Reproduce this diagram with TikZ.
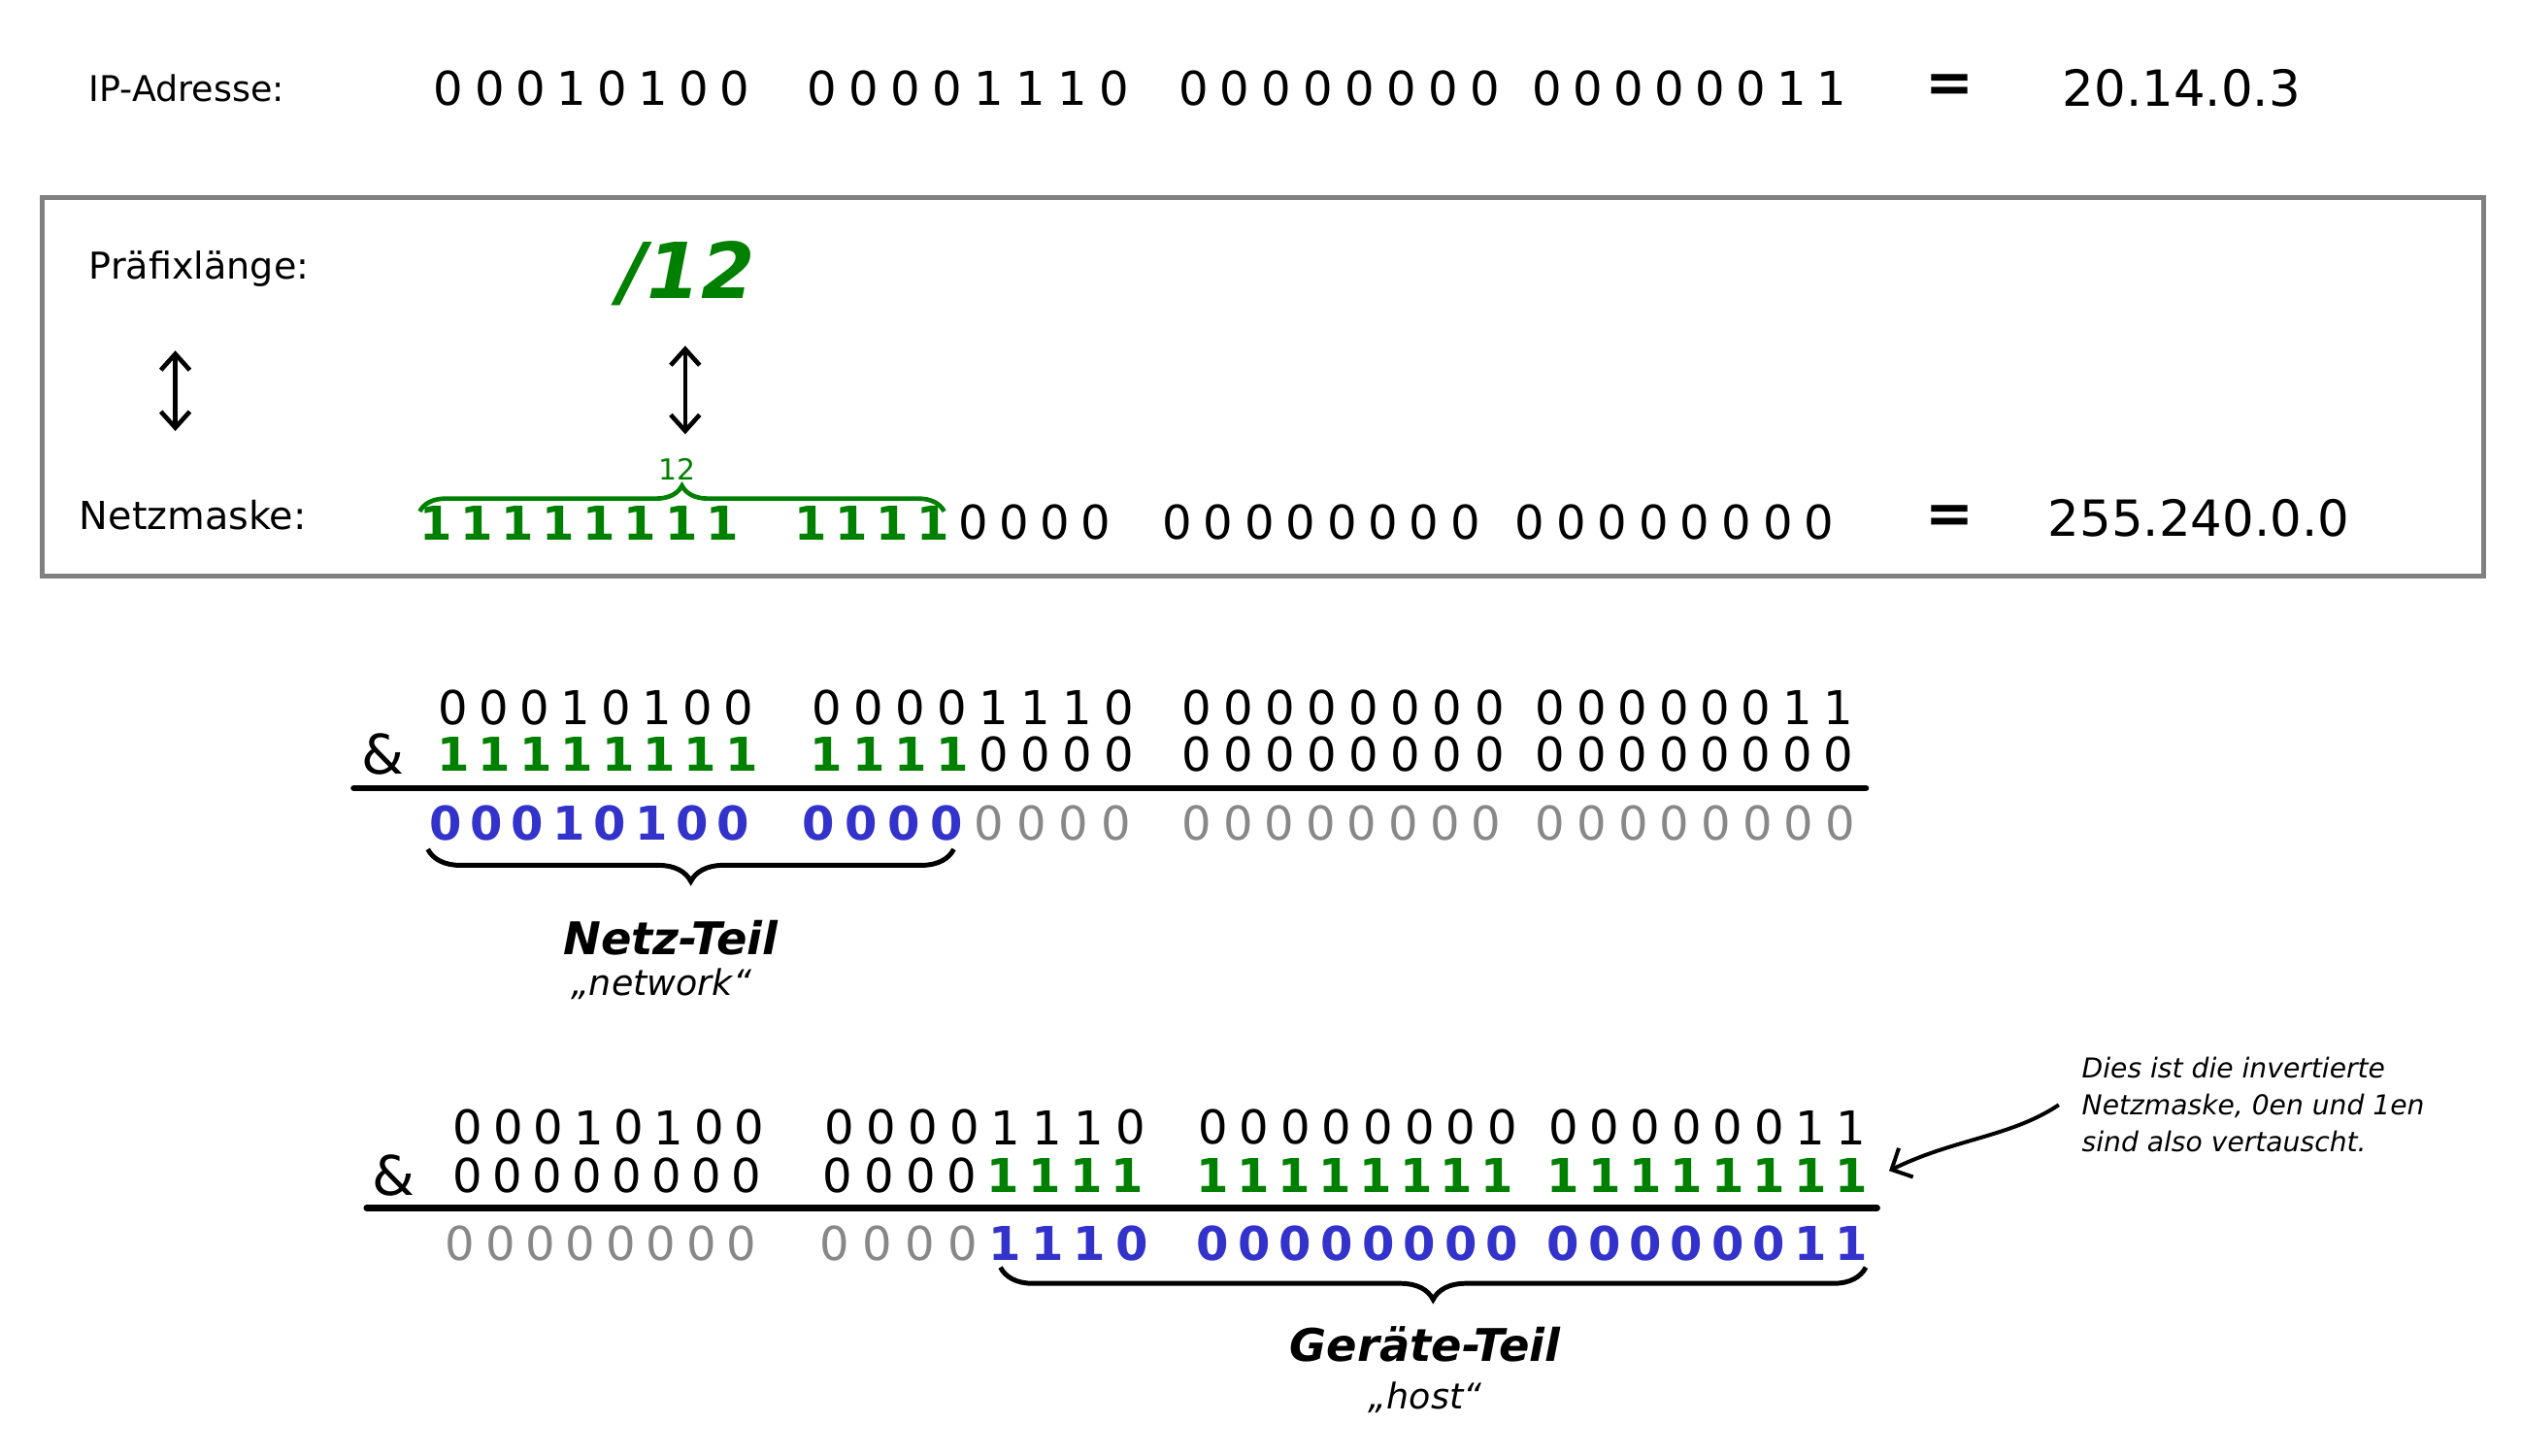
\documentclass[tikz,border=0pt]{standalone}
\usepackage{fontspec}
\setmainfont{DejaVu Sans}[BoldFont={DejaVu Sans Bold},ItalicFont={DejaVu Sans Oblique},BoldItalicFont={DejaVu Sans Bold Oblique}]
\usetikzlibrary{arrows.meta,decorations.pathreplacing}
\definecolor{mgreen}{RGB}{0,128,0}
\definecolor{mblue}{RGB}{51,51,204}
\definecolor{mgray}{RGB}{136,136,136}
\definecolor{boxgray}{RGB}{128,128,128}
\tikzset{
  bit/.style={inner sep=0pt,anchor=center,font=\fontsize{14.5}{14.5}\selectfont},
  k/.style={bit,text=black},
  g/.style={bit,text=mgreen,font=\fontsize{14.5}{14.5}\selectfont\bfseries},
  b/.style={bit,text=mblue,font=\fontsize{14.5}{14.5}\selectfont\bfseries},
  e/.style={bit,text=mgray},
  lab/.style={inner sep=0pt,anchor=west,font=\fontsize{11.5}{13}\selectfont},
  bignum/.style={inner sep=0pt,anchor=west,font=\fontsize{15.5}{17}\selectfont},
  eqsign/.style={inner sep=0pt,font=\fontsize{18}{18}\selectfont\bfseries},
  andsign/.style={inner sep=0pt,font=\fontsize{17}{17}\selectfont},
  dblarrow/.style={{Straight Barb[length=5pt,width=9pt]}-{Straight Barb[length=5pt,width=9pt]},line width=1.4pt},
  rule/.style={line width=2pt,line cap=round},
  bracebelow/.style={decorate,decoration={brace,amplitude=10pt},line width=1.5pt},
  partlabel/.style={inner sep=0pt,font=\fontsize{14}{16}\selectfont\bfseries\itshape},
  partsub/.style={inner sep=0pt,font=\fontsize{11}{13}\selectfont\itshape},
}
\newcommand\bitgroup[5]{%
  \foreach \d/\c [count=\i from 0] in {#5}
    \node[\c] (#1-\i) at ({#2+9+\i*(#3-#2-18)/7},#4) {\d};
}
\begin{document}
\begin{tikzpicture}[x=0.5pt,y=-0.5pt]
\useasboundingbox (0,0) rectangle (1568,905);

% Row: IP address
\node[lab,font=\fontsize{11}{13}\selectfont] (ip) at (55,55) {IP-Adresse:};
\bitgroup{a1}{270}{466}{55}{0/k,0/k,0/k,1/k,0/k,1/k,0/k,0/k}
\bitgroup{a2}{502}{702}{55}{0/k,0/k,0/k,0/k,1/k,1/k,1/k,0/k}
\bitgroup{a3}{733}{932}{55}{0/k,0/k,0/k,0/k,0/k,0/k,0/k,0/k}
\bitgroup{a4}{953}{1148}{55}{0/k,0/k,0/k,0/k,0/k,0/k,1/k,1/k}
\node[eqsign] (eq1) at (1212,55) {=};
\node[bignum] (ipdec) at (1282,55) {20.14.0.3};

% Box
\draw[boxgray,line width=1.5pt] (26,123) rectangle (1544,358);
\node[lab] (pl) at (55,167) {Präfixlänge:};
\node[inner sep=0pt,text=mgreen,font=\fontsize{24}{24}\selectfont\bfseries\itshape] (pref) at (427,170) {/12};
\coordinate (la1) at (109,218);
\coordinate (la2) at (109,268);
\draw[dblarrow] (la1) -- (la2);
\node[lab,font=\fontsize{12}{14}\selectfont] (nm) at (49,320) {Netzmaske:};
\node[inner sep=0pt,text=mgreen,font=\fontsize{9}{9}\selectfont] (lbl12) at (421,292) {12};
\coordinate (ma1) at (426,215);
\coordinate (ma2) at (426,270);
\draw[dblarrow] (ma1) -- (ma2);
\bitgroup{n1}{262}{458}{325}{1/g,1/g,1/g,1/g,1/g,1/g,1/g,1/g}
\bitgroup{n2}{495}{690}{325}{1/g,1/g,1/g,1/g,0/k,0/k,0/k,0/k}
\bitgroup{n3}{723}{920}{325}{0/k,0/k,0/k,0/k,0/k,0/k,0/k,0/k}
\bitgroup{n4}{942}{1140}{325}{0/k,0/k,0/k,0/k,0/k,0/k,0/k,0/k}
\draw[mgreen,line width=1.4pt,decorate,decoration={brace,amplitude=8pt}] (261,318) -- (587,318);
\node[eqsign] (eq2) at (1212,323) {=};
\node[bignum] (nmdec) at (1273,322) {255.240.0.0};

% AND 1
\bitgroup{b1}{273}{468}{440}{0/k,0/k,0/k,1/k,0/k,1/k,0/k,0/k}
\bitgroup{b2}{505}{705}{440}{0/k,0/k,0/k,0/k,1/k,1/k,1/k,0/k}
\bitgroup{b3}{735}{935}{440}{0/k,0/k,0/k,0/k,0/k,0/k,0/k,0/k}
\bitgroup{b4}{955}{1152}{440}{0/k,0/k,0/k,0/k,0/k,0/k,1/k,1/k}
\node[andsign] (and1) at (238,469) {\&};
\bitgroup{m1}{273}{470}{469}{1/g,1/g,1/g,1/g,1/g,1/g,1/g,1/g}
\bitgroup{m2}{505}{705}{469}{1/g,1/g,1/g,1/g,0/k,0/k,0/k,0/k}
\bitgroup{m3}{735}{935}{469}{0/k,0/k,0/k,0/k,0/k,0/k,0/k,0/k}
\bitgroup{m4}{955}{1152}{469}{0/k,0/k,0/k,0/k,0/k,0/k,0/k,0/k}
\coordinate (r1a) at (220,490);
\coordinate (r1b) at (1160,490);
\draw[rule] (r1a) -- (r1b);
\bitgroup{r1}{268}{465}{512}{0/b,0/b,0/b,1/b,0/b,1/b,0/b,0/b}
\bitgroup{r2}{500}{703}{512}{0/b,0/b,0/b,0/b,0/e,0/e,0/e,0/e}
\bitgroup{r3}{735}{933}{512}{0/e,0/e,0/e,0/e,0/e,0/e,0/e,0/e}
\bitgroup{r4}{955}{1153}{512}{0/e,0/e,0/e,0/e,0/e,0/e,0/e,0/e}
\draw[bracebelow] (593,528) -- (266,528);
\node[partlabel] (netz) at (417,583) {Netz-Teil};
\node[partsub] (network) at (411,612) {„network“};

% AND 2
\bitgroup{c1}{282}{475}{701}{0/k,0/k,0/k,1/k,0/k,1/k,0/k,0/k}
\bitgroup{c2}{513}{712}{701}{0/k,0/k,0/k,0/k,1/k,1/k,1/k,0/k}
\bitgroup{c3}{745}{943}{701}{0/k,0/k,0/k,0/k,0/k,0/k,0/k,0/k}
\bitgroup{c4}{963}{1160}{701}{0/k,0/k,0/k,0/k,0/k,0/k,1/k,1/k}
\node[andsign] (and2) at (245,731) {\&};
\bitgroup{d1}{282}{473}{731}{0/k,0/k,0/k,0/k,0/k,0/k,0/k,0/k}
\bitgroup{d2}{512}{710}{731}{0/k,0/k,0/k,0/k,1/g,1/g,1/g,1/g}
\bitgroup{d3}{745}{940}{731}{1/g,1/g,1/g,1/g,1/g,1/g,1/g,1/g}
\bitgroup{d4}{963}{1160}{731}{1/g,1/g,1/g,1/g,1/g,1/g,1/g,1/g}
\coordinate (r2a) at (228,751);
\coordinate (r2b) at (1167,751);
\draw[rule] (r2a) -- (r2b);
\bitgroup{s1}{277}{470}{773}{0/e,0/e,0/e,0/e,0/e,0/e,0/e,0/e}
\bitgroup{s2}{510}{713}{773}{0/e,0/e,0/e,0/e,1/b,1/b,1/b,0/b}
\bitgroup{s3}{745}{943}{773}{0/b,0/b,0/b,0/b,0/b,0/b,0/b,0/b}
\bitgroup{s4}{963}{1160}{773}{0/b,0/b,0/b,0/b,0/b,0/b,1/b,1/b}
\draw[bracebelow] (1160,788) -- (622,788);
\node[partlabel] (geraete) at (886,836) {Geräte-Teil};
\node[partsub] (host) at (886,869) {„host“};

% Annotation
\node[inner sep=0pt,anchor=north west,align=left,font=\fontsize{8.5}{11.5}\selectfont\itshape] (note) at (1294,657) {Dies ist die invertierte\\Netzmaske, 0en und 1en\\sind also vertauscht.};
\draw[-{Straight Barb[length=5pt,width=10pt]},line width=1.2pt] ([xshift=-7pt]note.west) .. controls (1250,707) and (1215,708) .. ([xshift=6.5pt,yshift=1.5pt]d4-7.east);
\end{tikzpicture}
\end{document}
